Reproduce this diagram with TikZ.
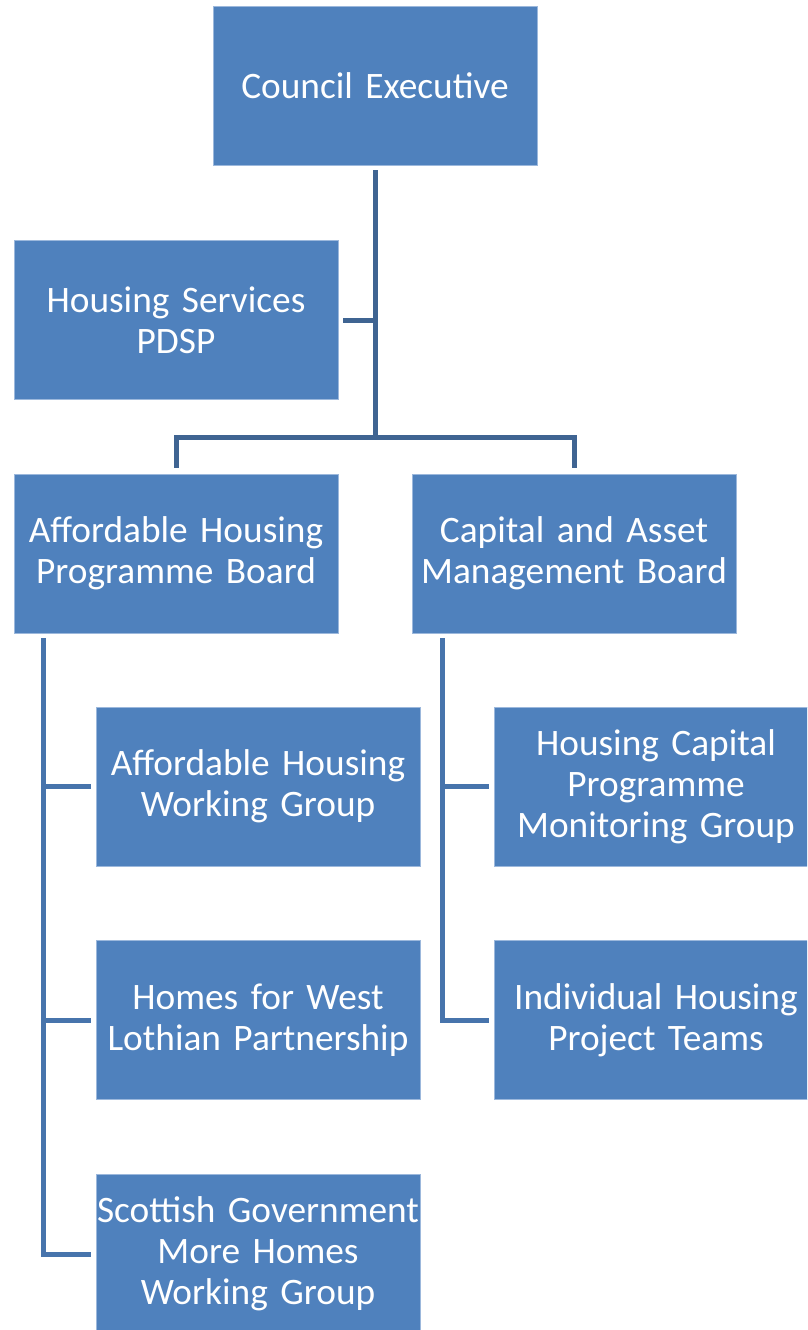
\documentclass[tikz,border=0pt]{standalone}
\usepackage{fontspec}
\setmainfont{Carlito}
\definecolor{boxfill}{HTML}{4F81BD}
\definecolor{boxedge}{HTML}{9CB8DC}
\definecolor{topline}{HTML}{3F6492}
\definecolor{subline}{HTML}{4774AC}
\begin{document}
\begin{tikzpicture}[x=0.75pt,y=-0.75pt,
  orgbox/.style={rectangle, fill=boxfill, draw=boxedge, line width=0.6pt,
    minimum width=243pt, minimum height=119.25pt, inner sep=0pt,
    text width=243pt, align=center, text=white,
    font=\fontsize{28pt}{30.75pt}\selectfont},
  topconn/.style={draw=topline, line width=3.75pt},
  subconn/.style={draw=subline, line width=3.75pt}]
\clip (0,0) rectangle (807,1330);
\fill[white] (0,0) rectangle (807,1330);

\node[orgbox] (ce) at (375,85.5) {Council Executive};
\node[orgbox] (hs) at (176,320) {Housing Services\\PDSP};
\node[orgbox] (ahpb) at (176,553.5) {Affordable Housing\\Programme Board};
\node[orgbox] (camb) at (574,553.5) {Capital and Asset\\Management Board};
\node[orgbox] (ahwg) at (258,786.5) {Affordable Housing\\Working Group};
\node[orgbox] (hwl) at (258,1020) {Homes for West\\Lothian Partnership};
\node[orgbox] (sg) at (258,1254) {Scottish Government\\More Homes\\Working Group};
\node[orgbox] (hcpm) at (656,786.5) {Housing Capital\\Programme\\Monitoring Group};
\node[orgbox] (ihpt) at (656,1020) {Individual Housing\\Project Teams};

% top tree
\coordinate (j1) at (375,437);
\draw[topconn] ([yshift=-3.75pt]ce.south) -- (j1);
\draw[topconn] ([xshift=3.75pt]hs.east) -- (hs.east -| ce.south);
\draw[topconn] ([yshift=4.5pt]ahpb.north) |- (j1) -| ([yshift=4.5pt]camb.north);

% left sub tree
\coordinate (l0) at ([xshift=22.5pt,yshift=-3.75pt]ahpb.south west);
\draw[subconn] (l0) |- ([xshift=-3.75pt]sg.west);
\draw[subconn] (l0 |- ahwg.west) -- ([xshift=-3.75pt]ahwg.west);
\draw[subconn] (l0 |- hwl.west) -- ([xshift=-3.75pt]hwl.west);

% right sub tree
\coordinate (r0) at ([xshift=23.25pt,yshift=-3.75pt]camb.south west);
\draw[subconn] (r0) |- ([xshift=-3.75pt]ihpt.west);
\draw[subconn] (r0 |- hcpm.west) -- ([xshift=-3.75pt]hcpm.west);
\end{tikzpicture}
\end{document}
